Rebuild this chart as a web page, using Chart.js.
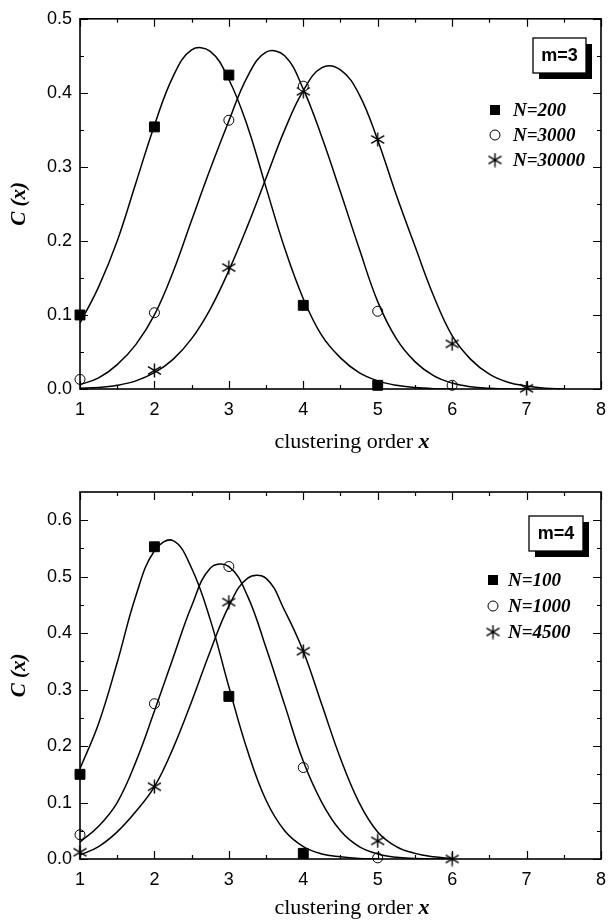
<!DOCTYPE html>
<html>
<head>
<meta charset="utf-8">
<script src="https://cdn.jsdelivr.net/npm/chart.js@4/dist/chart.umd.min.js"></script>
<style>
    body { margin: 0; background: #fff; }
    canvas { position: absolute; left: 0; }
    #chartM3 { top: 0; }
    #chartM4 { top: 460px; }
</style>
</head>
<body>
<canvas id="chartM3" width="616" height="460"></canvas>
<canvas id="chartM4" width="616" height="461"></canvas>
<script>
// Axis ticks shared by both panels
const xTicks = [1, 2, 3, 4, 5, 6, 7, 8];
const m3YTicks = [0, 0.1, 0.2, 0.3, 0.4, 0.5];
const m4YTicks = [0, 0.1, 0.2, 0.3, 0.4, 0.5, 0.6];
const m4YMax = 0.65;

// m=3 panel: measured points
const m3Labels = ['N=200', 'N=3000', 'N=30000'];
const m3N200X = [1, 2, 3, 4, 5];
const m3N200C = [0.100, 0.354, 0.424, 0.113, 0.005];
const m3N3000X = [1, 2, 3, 4, 5, 6];
const m3N3000C = [0.013, 0.103, 0.363, 0.409, 0.105, 0.005];
const m3N30000X = [2, 3, 4, 5, 6, 7];
const m3N30000C = [0.025, 0.164, 0.402, 0.337, 0.061, 0.001];

// m=3 panel: fitted curves (every 0.25)
const m3FitN200X = [1, 1.25, 1.5, 1.75, 2, 2.25, 2.5, 2.75, 3, 3.25, 3.5, 3.75, 4, 4.25, 4.5, 4.75, 5, 5.25, 5.5, 5.75, 6];
const m3FitN200C = [0.089, 0.138, 0.200, 0.278, 0.356, 0.422, 0.458, 0.456, 0.418, 0.355, 0.272, 0.190, 0.122, 0.072, 0.042, 0.022, 0.011, 0.005, 0.002, 0.0005, 0.0];
const m3FitN3000X = [1, 1.25, 1.5, 1.75, 2, 2.25, 2.5, 2.75, 3, 3.25, 3.5, 3.75, 4, 4.25, 4.5, 4.75, 5, 5.25, 5.5, 5.75, 6, 6.25, 6.5, 6.75, 7];
const m3FitN3000C = [0.006, 0.015, 0.033, 0.060, 0.100, 0.158, 0.228, 0.297, 0.362, 0.422, 0.455, 0.450, 0.405, 0.340, 0.266, 0.190, 0.118, 0.068, 0.037, 0.018, 0.008, 0.003, 0.001, 0.0, 0.0];
const m3FitN30000X = [1, 1.25, 1.5, 1.75, 2, 2.25, 2.5, 2.75, 3, 3.25, 3.5, 3.75, 4, 4.25, 4.5, 4.75, 5, 5.25, 5.5, 5.75, 6, 6.25, 6.5, 6.75, 7, 7.25, 7.5];
const m3FitN30000C = [0.001, 0.002, 0.005, 0.011, 0.022, 0.040, 0.068, 0.108, 0.160, 0.220, 0.285, 0.350, 0.403, 0.434, 0.431, 0.398, 0.336, 0.262, 0.193, 0.126, 0.072, 0.040, 0.020, 0.009, 0.004, 0.001, 0.0];

// m=4 panel: measured points
const m4Labels = ['N=100', 'N=1000', 'N=4500'];
const m4N100X = [1, 2, 3, 4];
const m4N100C = [0.150, 0.553, 0.288, 0.010];
const m4N1000X = [1, 2, 3, 4, 5];
const m4N1000C = [0.043, 0.275, 0.518, 0.162, 0.002];
const m4N4500X = [1, 2, 3, 4, 5, 6];
const m4N4500C = [0.012, 0.128, 0.455, 0.368, 0.032, 0.000];

// m=4 panel: fitted curves
const m4FitN100X = [1, 1.25, 1.5, 1.75, 2, 2.25, 2.5, 2.75, 3, 3.25, 3.5, 3.75, 4, 4.25, 4.5, 4.75, 5];
const m4FitN100C = [0.160, 0.240, 0.348, 0.466, 0.546, 0.564, 0.515, 0.424, 0.305, 0.192, 0.104, 0.050, 0.022, 0.009, 0.004, 0.001, 0.0];
const m4FitN1000X = [1, 1.25, 1.5, 1.75, 2, 2.25, 2.5, 2.75, 3, 3.25, 3.5, 3.75, 4, 4.25, 4.5, 4.75, 5, 5.25, 5.5, 5.75, 6];
const m4FitN1000C = [0.030, 0.058, 0.100, 0.172, 0.262, 0.356, 0.448, 0.515, 0.518, 0.466, 0.374, 0.273, 0.173, 0.100, 0.050, 0.022, 0.009, 0.003, 0.001, 0.0, 0.0];
const m4FitN4500X = [1, 1.25, 1.5, 1.75, 2, 2.25, 2.5, 2.75, 3, 3.25, 3.5, 3.75, 4, 4.25, 4.5, 4.75, 5, 5.25, 5.5, 5.75, 6];
const m4FitN4500C = [0.007, 0.022, 0.048, 0.084, 0.128, 0.196, 0.279, 0.368, 0.448, 0.497, 0.497, 0.440, 0.368, 0.273, 0.178, 0.100, 0.048, 0.022, 0.010, 0.004, 0.001];

Chart.defaults.font.family = '"Liberation Sans", Arial, sans-serif';
Chart.defaults.color = '#000';

function toXY(xs, ys) {
    return xs.map((x, i) => ({ x: x, y: ys[i] }));
}

// six-armed asterisk used for the largest N
const starMarker = (function() {
    const c = document.createElement('canvas');
    c.width = 15;
    c.height = 15;
    const g = c.getContext('2d');
    g.strokeStyle = '#000';
    g.lineWidth = 1.4;
    g.beginPath();
    g.moveTo(7.5, 0.5); g.lineTo(7.5, 14.5);
    g.moveTo(1, 3.7); g.lineTo(14, 11.3);
    g.moveTo(1, 11.3); g.lineTo(14, 3.7);
    g.stroke();
    return c;
})();

function pointSet(label, xs, ys, kind) {
    const set = {
        label: label,
        data: toXY(xs, ys),
        showLine: false,
        legendItem: kind,
        borderColor: '#000',
        borderWidth: 1,
        clip: false
    };
    if (kind === 'square') {
        set.pointStyle = 'rect';
        set.pointRadius = 7;
        set.backgroundColor = '#000';
    } else if (kind === 'circle') {
        set.pointStyle = 'circle';
        set.pointRadius = 5;
        set.backgroundColor = '#fff';
    } else {
        set.pointStyle = starMarker;
        set.pointRadius = 7;
    }
    return set;
}

function fitSet(xs, ys) {
    return {
        label: 'fit',
        data: toXY(xs, ys),
        showLine: true,
        pointRadius: 0,
        borderColor: '#000',
        borderWidth: 1.5,
        tension: 0.4
    };
}

function minorTicks(majors, max) {
    const minors = [];
    for (let i = 0; i < majors.length - 1; i++) {
        minors.push((majors[i] + majors[i + 1]) / 2);
    }
    const step = majors[1] - majors[0];
    const last = majors[majors.length - 1] + step / 2;
    if (last < max - 1e-9) minors.push(last);
    return minors;
}

// frame, inward ticks on all sides, legend, label box and axis titles
const panelDecor = {
    id: 'panelDecor',
    afterDraw(chart, args, opts) {
        const ctx = chart.ctx;
        const a = chart.chartArea;
        const xs = chart.scales.x;
        const ys = chart.scales.y;
        ctx.save();
        ctx.strokeStyle = '#000';

        ctx.lineWidth = 1.2;
        ctx.beginPath();
        [[xTicks, 8], [minorTicks(xTicks, xs.max), 4]].forEach(([vals, len]) => {
            vals.forEach(v => {
                const px = Math.round(xs.getPixelForValue(v)) + 0.5;
                ctx.moveTo(px, a.bottom); ctx.lineTo(px, a.bottom - len);
                ctx.moveTo(px, a.top); ctx.lineTo(px, a.top + len);
            });
        });
        [[opts.yTicks, 8], [minorTicks(opts.yTicks, ys.max), 4]].forEach(([vals, len]) => {
            vals.forEach(v => {
                const py = Math.round(ys.getPixelForValue(v)) + 0.5;
                ctx.moveTo(a.left, py); ctx.lineTo(a.left + len, py);
                ctx.moveTo(a.right, py); ctx.lineTo(a.right - len, py);
            });
        });
        ctx.stroke();

        ctx.lineWidth = 1.6;
        ctx.strokeRect(a.left, a.top, a.right - a.left, a.bottom - a.top);

        // label box with drop shadow
        const b = opts.box;
        ctx.fillStyle = '#000';
        ctx.fillRect(b.x + 6, b.y + 6, b.w, b.h);
        ctx.fillStyle = '#fff';
        ctx.fillRect(b.x, b.y, b.w, b.h);
        ctx.lineWidth = 1.3;
        ctx.strokeRect(b.x, b.y, b.w, b.h);
        ctx.fillStyle = '#000';
        ctx.font = 'bold 18px "Liberation Sans", Arial, sans-serif';
        ctx.textAlign = 'center';
        ctx.textBaseline = 'middle';
        ctx.fillText(opts.boxText, b.x + b.w / 2, b.y + b.h / 2 + 1);

        // legend
        const lg = opts.legend;
        let row = 0;
        chart.data.datasets.forEach(ds => {
            if (!ds.legendItem) return;
            const cy = lg.y + row * lg.gap;
            const cx = lg.x;
            ctx.lineWidth = 1;
            if (ds.legendItem === 'square') {
                ctx.fillRect(cx - 5, cy - 5, 10, 10);
            } else if (ds.legendItem === 'circle') {
                ctx.beginPath();
                ctx.arc(cx, cy, 5, 0, Math.PI * 2);
                ctx.stroke();
            } else {
                ctx.drawImage(starMarker, cx - 7.5, cy - 7.5);
            }
            ctx.font = 'italic bold 19px "Liberation Serif", "Times New Roman", serif';
            ctx.textAlign = 'left';
            ctx.fillText(ds.label, lg.textX, cy + 1);
            row++;
        });

        // x axis title: "clustering order" + bold italic x
        const part1 = 'clustering order ';
        const part2 = 'x';
        const f1 = '22px "Liberation Serif", "Times New Roman", serif';
        const f2 = 'italic bold 22px "Liberation Serif", "Times New Roman", serif';
        ctx.font = f1;
        const w1 = ctx.measureText(part1).width;
        ctx.font = f2;
        const w2 = ctx.measureText(part2).width;
        const start = opts.xTitleX - (w1 + w2) / 2;
        ctx.textAlign = 'left';
        ctx.font = f1;
        ctx.fillText(part1, start, opts.xTitleY);
        ctx.font = f2;
        ctx.fillText(part2, start + w1, opts.xTitleY);

        // y axis title
        ctx.translate(opts.yTitleX, (a.top + a.bottom) / 2);
        ctx.rotate(-Math.PI / 2);
        ctx.textAlign = 'center';
        ctx.font = 'italic bold 21px "Liberation Serif", "Times New Roman", serif';
        ctx.fillText('C (x)', 0, 0);
        ctx.restore();
    }
};

function makePanel(canvasId, datasets, yTicks, yMax, decor, pad, xHeight) {
    const ctx = document.getElementById(canvasId).getContext('2d');
    return new Chart(ctx, {
        type: 'scatter',
        data: { datasets: datasets },
        plugins: [panelDecor],
        options: {
            responsive: false,
            animation: false,
            devicePixelRatio: 1,
            layout: { padding: pad },
            plugins: {
                legend: { display: false },
                tooltip: { enabled: false },
                panelDecor: Object.assign({ yTicks: yTicks }, decor)
            },
            scales: {
                x: {
                    type: 'linear',
                    min: 1,
                    max: 8,
                    afterFit: scale => { scale.height = xHeight; },
                    afterBuildTicks: scale => { scale.ticks = xTicks.map(v => ({ value: v })); },
                    grid: { display: false, drawTicks: false },
                    border: { display: false },
                    ticks: { padding: 10, font: { size: 18 }, callback: v => v }
                },
                y: {
                    type: 'linear',
                    min: 0,
                    max: yMax,
                    afterFit: scale => { scale.width = 80; },
                    afterBuildTicks: scale => { scale.ticks = yTicks.map(v => ({ value: v })); },
                    grid: { display: false, drawTicks: false },
                    border: { display: false },
                    ticks: { padding: 8, font: { size: 18 }, callback: v => v.toFixed(1) }
                }
            }
        }
    });
}

makePanel('chartM3', [
    fitSet(m3FitN200X, m3FitN200C),
    fitSet(m3FitN3000X, m3FitN3000C),
    fitSet(m3FitN30000X, m3FitN30000C),
    pointSet(m3Labels[0], m3N200X, m3N200C, 'square'),
    pointSet(m3Labels[1], m3N3000X, m3N3000C, 'circle'),
    pointSet(m3Labels[2], m3N30000X, m3N30000C, 'star')
], m3YTicks, 0.5, {
    boxText: 'm=3',
    box: { x: 533, y: 38, w: 53, h: 35 },
    legend: { x: 495, textX: 513, y: 110, gap: 25 },
    xTitleX: 352,
    xTitleY: 442,
    yTitleX: 20
}, { left: 0, right: 6, top: 15, bottom: 0 }, 71);

makePanel('chartM4', [
    fitSet(m4FitN100X, m4FitN100C),
    fitSet(m4FitN1000X, m4FitN1000C),
    fitSet(m4FitN4500X, m4FitN4500C),
    pointSet(m4Labels[0], m4N100X, m4N100C, 'square'),
    pointSet(m4Labels[1], m4N1000X, m4N1000C, 'circle'),
    pointSet(m4Labels[2], m4N4500X, m4N4500C, 'star')
], m4YTicks, m4YMax, {
    boxText: 'm=4',
    box: { x: 529, y: 56, w: 54, h: 35 },
    legend: { x: 493, textX: 508, y: 120, gap: 26 },
    xTitleX: 352,
    xTitleY: 448,
    yTitleX: 20
}, { left: 0, right: 6, top: 32, bottom: 0 }, 62);
</script>
</body>
</html>
